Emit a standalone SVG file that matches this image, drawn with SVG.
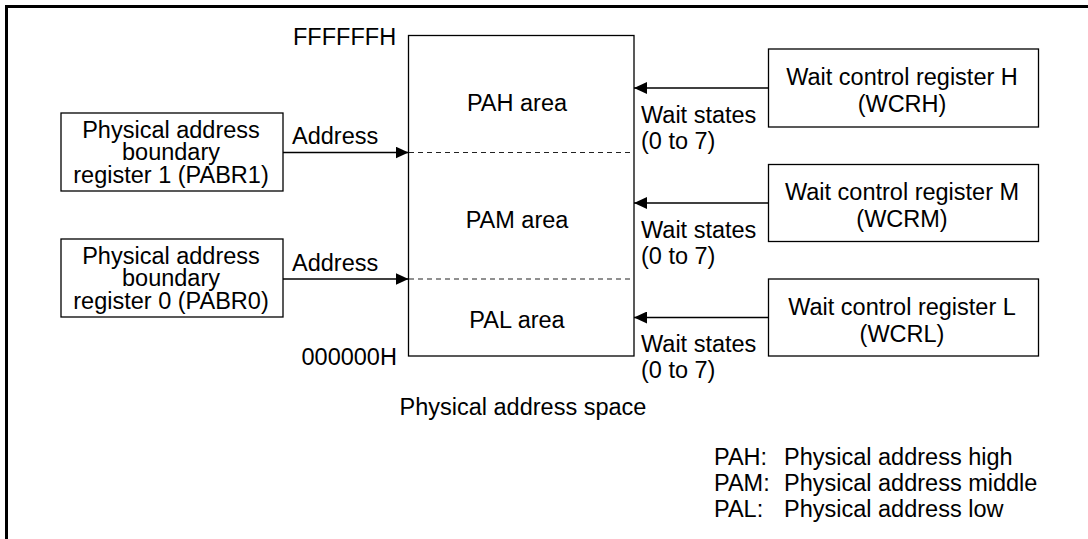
<svg xmlns="http://www.w3.org/2000/svg" width="1088" height="539" viewBox="0 0 1088 539">
<defs>
<style>
text{font-family:"Liberation Sans",Arial,sans-serif;font-size:23.5px;fill:#000}
.c{text-anchor:middle}
.box{fill:#fff;stroke:#000;stroke-width:1.3}
.ln{stroke:#000;stroke-width:1.3;fill:none}
.dash{stroke:#222;stroke-width:1.2;stroke-dasharray:5 4;fill:none}
</style>
<marker id="ah" viewBox="0 0 13 12" refX="13" refY="6" markerWidth="13" markerHeight="12" markerUnits="userSpaceOnUse" orient="auto">
<path d="M0,0 L13,6 L0,12 Z" fill="#000"/>
</marker>
</defs>
<rect width="1088" height="539" fill="#fff"/>
<path d="M6.5,539 V6.5 H1088" fill="none" stroke="#000" stroke-width="3"/>

<g id="space">
<rect class="box" x="408.5" y="35.5" width="225.5" height="320.5"/>
<line class="dash" x1="409" y1="152.5" x2="633" y2="152.5"/>
<line class="dash" x1="409" y1="279" x2="633" y2="279"/>
<text class="c" x="517" y="111">PAH area</text>
<text class="c" x="517" y="228">PAM area</text>
<text class="c" x="517" y="328">PAL area</text>
<text x="293" y="45">FFFFFFH</text>
<text x="301.5" y="365">000000H</text>
<text x="399.5" y="415">Physical address space</text>
</g>

<g id="pabr1">
<rect class="box" x="61" y="113" width="222" height="78"/>
<text class="c" x="171" y="137.5">Physical address</text>
<text class="c" x="171" y="160">boundary</text>
<text class="c" x="171" y="182.5">register 1 (PABR1)</text>
</g>
<g id="pabr0">
<rect class="box" x="61" y="239" width="222" height="78"/>
<text class="c" x="171" y="263.5">Physical address</text>
<text class="c" x="171" y="286">boundary</text>
<text class="c" x="171" y="308.5">register 0 (PABR0)</text>
</g>

<g id="wcrh">
<rect class="box" x="768.5" y="49" width="270" height="78"/>
<text class="c" x="902" y="85">Wait control register H</text>
<text class="c" x="902" y="111.5">(WCRH)</text>
</g>
<g id="wcrm">
<rect class="box" x="768.5" y="164.5" width="270" height="77"/>
<text class="c" x="902" y="200">Wait control register M</text>
<text class="c" x="902" y="227">(WCRM)</text>
</g>
<g id="wcrl">
<rect class="box" x="768.5" y="279" width="270" height="77"/>
<text class="c" x="902" y="315">Wait control register L</text>
<text class="c" x="902" y="342">(WCRL)</text>
</g>

<g id="connectors">
<line class="ln" x1="283" y1="152.5" x2="408.5" y2="152.5" marker-end="url(#ah)"/>
<line class="ln" x1="283" y1="279" x2="408.5" y2="279" marker-end="url(#ah)"/>
<line class="ln" x1="768.5" y1="88" x2="634" y2="88" marker-end="url(#ah)"/>
<line class="ln" x1="768.5" y1="203" x2="634" y2="203" marker-end="url(#ah)"/>
<line class="ln" x1="768.5" y1="317.5" x2="634" y2="317.5" marker-end="url(#ah)"/>
<text x="292" y="144">Address</text>
<text x="292" y="270.5">Address</text>
<text x="641" y="122.5">Wait states</text>
<text x="641" y="149">(0 to 7)</text>
<text x="641" y="237.5">Wait states</text>
<text x="641" y="263.5">(0 to 7)</text>
<text x="641" y="352">Wait states</text>
<text x="641" y="378">(0 to 7)</text>
</g>

<g id="legend">
<text x="714" y="465">PAH:</text>
<text x="784" y="465">Physical address high</text>
<text x="714" y="491">PAM:</text>
<text x="784" y="491">Physical address middle</text>
<text x="714" y="517">PAL:</text>
<text x="784" y="517">Physical address low</text>
</g>
</svg>
